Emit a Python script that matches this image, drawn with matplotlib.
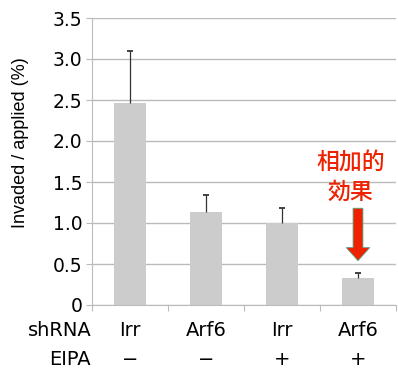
import matplotlib.pyplot as plt
from matplotlib.patches import FancyArrow

plt.rcParams['font.family'] = ['DejaVu Sans', 'Noto Sans CJK JP']

shrna = ['Irr', 'Arf6', 'Irr', 'Arf6']
eipa = ['\u2212', '\u2212', '+', '+']
values = [2.46, 1.14, 1.00, 0.33]
errors = [0.64, 0.20, 0.18, 0.06]
yticks = [0, 0.5, 1.0, 1.5, 2.0, 2.5, 3.0, 3.5]
yticklabels = ['0', '0.5', '1.0', '1.5', '2.0', '2.5', '3.0', '3.5']

fig = plt.figure(figsize=(3.98, 3.70), dpi=100)
ax = fig.add_axes([92 / 398, 1 - 305 / 370, 304 / 398, 287 / 370])

x = range(len(values))
ax.bar(x, values, width=0.41, color='#cccccc', zorder=2)
eb = ax.errorbar(x, values, yerr=[[0] * 4, errors], fmt='none', ecolor='#333333',
                 elinewidth=0.9, capsize=2.2, capthick=1.3, zorder=3)
# only the upper caps
eb[1][0].set_visible(False)

ax.set_xlim(-0.5, 3.5)
ax.set_ylim(0, 3.5)
ax.set_yticks(yticks)
ax.set_yticklabels(yticklabels, fontsize=13.5)
ax.yaxis.grid(True, color='#bbbbbb', linewidth=1.0, zorder=0)
ax.set_axisbelow(True)
ax.tick_params(axis='y', length=4, color='#bbbbbb', pad=3)

ax.set_xticks([-0.5, 0.5, 1.5, 2.5, 3.5])
ax.set_xticklabels([])
ax.tick_params(axis='x', length=4, color='#bbbbbb')

for s in ['top', 'right']:
    ax.spines[s].set_visible(False)
ax.spines['left'].set_color('#bbbbbb')
ax.spines['bottom'].set_color('#bbbbbb')

fig.text(21 / 398, 1 - 143 / 370, 'Invaded / applied (%)', rotation=90,
         ha='center', va='center', fontsize=13, family='Liberation Sans')

for i in x:
    ax.text(i, -0.305, shrna[i], ha='center', va='center', fontsize=14)
    ax.text(i, -0.67, eipa[i], ha='center', va='center', fontsize=14)
ax.text(-0.5, -0.305, 'shRNA', ha='right', va='center', fontsize=14)
ax.text(-0.51, -0.67, 'EIPA', ha='right', va='center', fontsize=14)

ax.text(2.9, 1.73, '相加的', ha='center', va='center', fontsize=16.5,
        color='#ee2200', family='Noto Sans CJK JP', weight='medium')
ax.text(2.9, 1.37, '効果', ha='center', va='center', fontsize=16.5,
        color='#ee2200', family='Noto Sans CJK JP', weight='medium')
arrow = FancyArrow(3, 1.18, 0, -0.64, width=0.13, head_width=0.31,
                   head_length=0.16, length_includes_head=True,
                   facecolor='#ee2200', edgecolor='#55aa88', linewidth=0.6,
                   zorder=4)
ax.add_patch(arrow)

fig.savefig('out.png', dpi=100)
